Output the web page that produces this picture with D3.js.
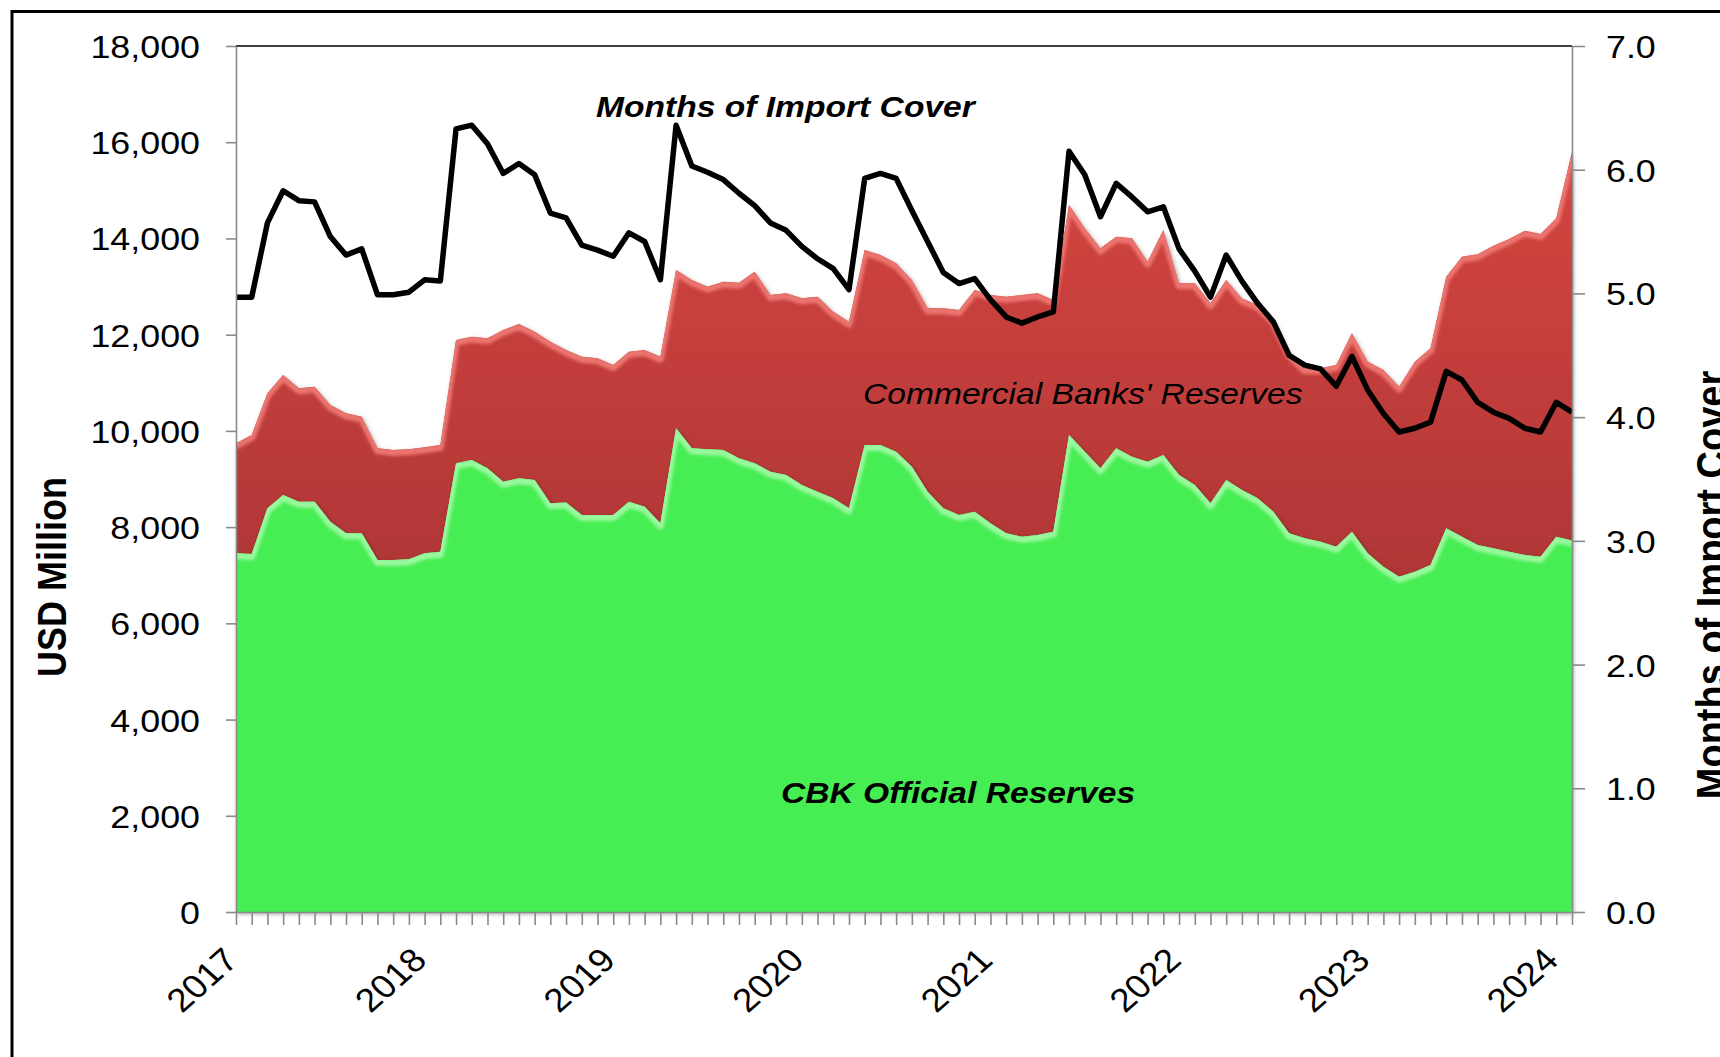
<!DOCTYPE html>
<html>
<head>
<meta charset="utf-8">
<script src="https://cdn.jsdelivr.net/npm/d3@7"></script>
<style>
    html, body { margin: 0; padding: 0; background: #fff; }
    svg { display: block; font-family: "Liberation Sans", Arial, sans-serif; }
</style>
</head>
<body>
<div id="chart"></div>
<script>
// monthly observations, Jan 2017 .. Feb 2024
const monthKeys = d3.timeMonth.range(new Date(2017, 0, 1), new Date(2024, 2, 1)).map(d3.timeFormat("%Y-%m"));

const yearLabels = ["2017", "2018", "2019", "2020", "2021", "2022", "2023", "2024"];

// CBK official reserves, USD million
const cbkReserves = [
    7455, 7440, 8390, 8667, 8528, 8528, 8112, 7871, 7871, 7316, 7316, 7330,
    7455, 7489, 9326, 9395, 9222, 8944, 9014, 8979, 8494, 8510, 8252, 8252,
    8252, 8528, 8424, 8079, 10054, 9638, 9617, 9603, 9430, 9326, 9153, 9083,
    8875, 8736, 8598, 8390, 9707, 9707, 9569, 9256, 8736, 8390, 8252, 8320,
    8079, 7871, 7801, 7836, 7905, 9914, 9568, 9222, 9638, 9464, 9360, 9499,
    9083, 8875, 8494, 8979, 8770, 8598, 8320, 7871, 7767, 7697, 7593, 7905,
    7455, 7178, 6970, 7073, 7212, 7975, 7801, 7628, 7559, 7489, 7420, 7385,
    7801, 7720
];

// commercial banks' reserves, USD million (stacked on top of CBK)
const banksReserves = [
    2287, 2474, 2391, 2495, 2357, 2391, 2426, 2494, 2424, 2322, 2287, 2290,
    2204, 2218, 2563, 2563, 2702, 3153, 3208, 3083, 3360, 3171, 3290, 3256,
    3117, 3118, 3257, 3463, 3290, 3498, 3380, 3498, 3650, 3983, 3671, 3776,
    3880, 4054, 3880, 3880, 4053, 3949, 3914, 3880, 3812, 4158, 4261, 4609,
    4745, 4919, 5023, 5023, 4815, 4781, 4642, 4573, 4399, 4538, 4157, 4676,
    3984, 4192, 4157, 4157, 3980, 4019, 3985, 3741, 3533, 3603, 3776, 4123,
    3983, 4088, 3949, 4365, 4508, 5230, 5820, 6042, 6291, 6501, 6740, 6705,
    6617, 8080
];

// months of import cover (right axis)
const importCover = [
    4.97, 4.97, 5.57, 5.83, 5.75, 5.74, 5.46, 5.31, 5.36, 4.99, 4.99, 5.01,
    5.11, 5.10, 6.33, 6.36, 6.21, 5.97, 6.05, 5.96, 5.65, 5.61, 5.39, 5.35,
    5.30, 5.49, 5.42, 5.11, 6.36, 6.03, 5.98, 5.92, 5.81, 5.71, 5.57, 5.51,
    5.38, 5.28, 5.20, 5.03, 5.93, 5.97, 5.93, 5.67, 5.42, 5.17, 5.08, 5.12,
    4.95, 4.81, 4.76, 4.81, 4.85, 6.15, 5.96, 5.62, 5.89, 5.78, 5.66, 5.70,
    5.36, 5.18, 4.97, 5.31, 5.10, 4.92, 4.77, 4.50, 4.42, 4.39, 4.25, 4.49,
    4.22, 4.03, 3.88, 3.91, 3.96, 4.37, 4.30, 4.12, 4.04, 3.99, 3.91, 3.88,
    4.12, 4.04
];

const leftTicks = [0, 2000, 4000, 6000, 8000, 10000, 12000, 14000, 16000, 18000];
const rightTicks = [0, 1, 2, 3, 4, 5, 6, 7];

const width = 1720;
const height = 1057;
const margin = { top: 46, right: 148, bottom: 145, left: 236 };
const SX = 1.12; // the source picture is stretched sideways

const svg = d3.select("#chart")
    .append("svg")
    .attr("width", width)
    .attr("height", height);

svg.append("rect").attr("width", width).attr("height", height).attr("fill", "#fff");

const x = d3.scalePoint().domain(monthKeys).range([margin.left, width - margin.right]);
const yL = d3.scaleLinear().domain([0, 18000]).range([height - margin.bottom, margin.top]);
const yR = d3.scaleLinear().domain([0, 7]).range([height - margin.bottom, margin.top]);

const data = monthKeys.map((k, i) => ({ k: k, cbk: cbkReserves[i], banks: banksReserves[i], cover: importCover[i] }));
const layers = d3.stack().keys(["cbk", "banks"])(data);

const defs = svg.append("defs");

const redGrad = defs.append("linearGradient")
    .attr("id", "redGrad")
    .attr("gradientUnits", "userSpaceOnUse")
    .attr("x1", 0).attr("x2", 0)
    .attr("y1", yL(15000)).attr("y2", yL(7000));
redGrad.append("stop").attr("offset", 0).attr("stop-color", "#d1443f");
redGrad.append("stop").attr("offset", 1).attr("stop-color", "#b03636");

defs.append("filter").attr("id", "soft")
    .append("feGaussianBlur").attr("stdDeviation", 1.8);

const shadow = defs.append("filter").attr("id", "shadow")
    .attr("x", "-5%").attr("y", "-5%").attr("width", "110%").attr("height", "110%");
shadow.append("feDropShadow")
    .attr("dx", 1.5).attr("dy", 2)
    .attr("stdDeviation", 2.2)
    .attr("flood-color", "#000")
    .attr("flood-opacity", 0.35);

const area = d3.area()
    .x(d => x(d.data.k))
    .y0(d => yL(d[0]))
    .y1(d => yL(d[1]));

const topEdge = d3.line()
    .x(d => x(d.data.k))
    .y(d => yL(d[1]));

const fills = { cbk: "#47ee52", banks: "url(#redGrad)" };
const glows = { cbk: "#9af89f", banks: "#ec756f" };

// draw the red band first, then green over it
[layers[1], layers[0]].forEach(layer => {
    const key = layer.key;
    defs.append("clipPath").attr("id", "clip-" + key)
        .append("path").attr("d", area(layer));

    svg.append("path")
        .attr("d", area(layer))
        .attr("fill", fills[key])
        .attr("filter", "url(#shadow)");

    svg.append("g")
        .attr("clip-path", "url(#clip-" + key + ")")
        .append("path")
        .attr("d", topEdge(layer))
        .attr("transform", "translate(0,2.5)")
        .attr("fill", "none")
        .attr("stroke", glows[key])
        .attr("stroke-width", 7)
        .attr("stroke-linejoin", "round")
        .attr("filter", "url(#soft)");
});

// plot area top border
svg.append("line")
    .attr("x1", margin.left).attr("x2", width - margin.right)
    .attr("y1", margin.top).attr("y2", margin.top)
    .attr("stroke", "#000").attr("stroke-width", 1.5);

// import cover line
svg.append("path")
    .datum(data)
    .attr("d", d3.line().x(d => x(d.k)).y(d => yR(d.cover)))
    .attr("fill", "none")
    .attr("stroke", "#000")
    .attr("stroke-width", 5.5)
    .attr("stroke-linejoin", "round");

// axes
function styleAxis(g) {
    g.attr("font-family", null).attr("font-size", null);
    g.select(".domain").attr("stroke", "#8a8a8a").attr("stroke-width", 1.6);
    g.selectAll(".tick line").attr("stroke", "#8a8a8a").attr("stroke-width", 1.6);
    g.selectAll(".tick text").attr("fill", "#000").style("font-size", "32px");
}

const gLeft = svg.append("g")
    .attr("transform", `translate(${margin.left},0)`)
    .call(d3.axisLeft(yL).tickValues(leftTicks).tickSize(10).tickSizeOuter(0).tickFormat(d3.format(",")))
    .call(styleAxis);
gLeft.selectAll(".tick text")
    .attr("x", -36 / SX)
    .attr("dy", "0.36em")
    .attr("transform", `scale(${SX},1)`);

const gRight = svg.append("g")
    .attr("transform", `translate(${width - margin.right},0)`)
    .call(d3.axisRight(yR).tickValues(rightTicks).tickSize(13).tickSizeOuter(0).tickFormat(d3.format(".1f")))
    .call(styleAxis);
gRight.selectAll(".tick text")
    .attr("x", 34 / SX)
    .attr("dy", "0.36em")
    .attr("transform", `scale(${SX},1)`);

svg.append("g")
    .attr("transform", `translate(0,${height - margin.bottom})`)
    .call(d3.axisBottom(x).tickSize(13).tickSizeOuter(0).tickFormat(""))
    .call(styleAxis);

// year labels on every January
const yearTicks = monthKeys.filter(k => k.endsWith("-01"));
svg.append("g").selectAll("text")
    .data(yearTicks)
    .join("text")
    .attr("transform", d => `translate(${x(d) + 4},${height - margin.bottom + 50}) scale(${SX},1) rotate(-45)`)
    .attr("text-anchor", "end")
    .style("font-size", "33px")
    .text((d, i) => yearLabels[i]);

// axis titles
svg.append("text")
    .attr("transform", `translate(66,577) scale(${SX},1) rotate(-90)`)
    .attr("text-anchor", "middle")
    .style("font-size", "36px")
    .style("font-weight", "bold")
    .text("USD Million");

svg.append("text")
    .attr("transform", `translate(1726,585) scale(${SX},1) rotate(-90)`)
    .attr("text-anchor", "middle")
    .style("font-size", "38px")
    .style("font-weight", "bold")
    .text("Months of Import Cover");

// series labels inside the plot
svg.append("text")
    .attr("transform", `translate(596,117) scale(${SX},1)`)
    .style("font-size", "30px")
    .style("font-weight", "bold")
    .style("font-style", "italic")
    .text("Months of Import Cover");

svg.append("text")
    .attr("transform", `translate(863,404) scale(${SX},1)`)
    .style("font-size", "30px")
    .style("font-style", "italic")
    .text("Commercial Banks' Reserves");

svg.append("text")
    .attr("transform", `translate(781,803) scale(${SX},1)`)
    .style("font-size", "30px")
    .style("font-weight", "bold")
    .style("font-style", "italic")
    .text("CBK Official Reserves");

// outer frame, cut by the right and bottom edges
svg.append("rect")
    .attr("x", 12).attr("y", 11.5)
    .attr("width", 2000).attr("height", 2000)
    .attr("fill", "none")
    .attr("stroke", "#000")
    .attr("stroke-width", 3);
</script>
</body>
</html>
